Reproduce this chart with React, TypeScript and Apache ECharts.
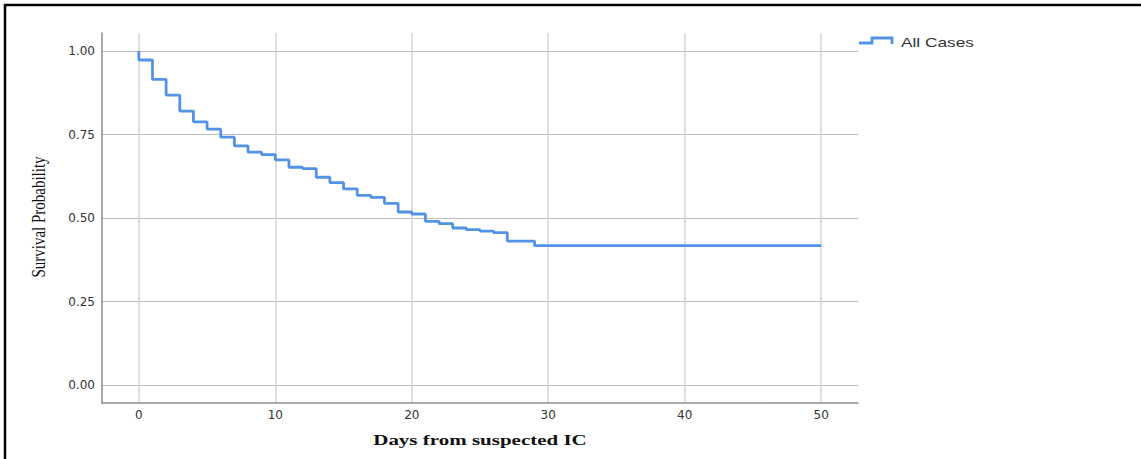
import React, { useEffect, useRef } from "react";
import * as echarts from "echarts";

const days = [0, 0, 1, 2, 3, 4, 5, 6, 7, 8, 9, 10, 11, 12, 13, 14, 15, 16, 17, 18, 19, 20, 21, 22, 23, 24, 25, 26, 27, 29, 50];
const survival = [1.0, 0.973, 0.915, 0.868, 0.82, 0.788, 0.766, 0.742, 0.716, 0.697, 0.69, 0.674, 0.652, 0.648, 0.622, 0.606, 0.587, 0.568, 0.562, 0.544, 0.518, 0.512, 0.49, 0.483, 0.47, 0.465, 0.461, 0.456, 0.431, 0.417, 0.417];
const seriesName = "All Cases";
const xTitle = "Days from suspected IC";
const yTitle = "Survival Probability";

const BLUE = "#5293e8";
const X_MIN = -2.7;
const X_MAX = 52.7;

export default function App() {
  const ref = useRef<HTMLDivElement>(null);
  useEffect(() => {
    if (!ref.current) return;
    const chart = echarts.init(ref.current, undefined, { renderer: "svg" });
    const data = days.map((d, i) => [d, survival[i]]);
    chart.setOption({
      animation: false,
      backgroundColor: "#ffffff",
      grid: [
        { left: 102, right: 283, top: 33, bottom: 56, containLabel: false },
        { left: 102, right: 283, top: 51, bottom: 74, containLabel: false },
      ],
      xAxis: [
        {
          type: "value",
          gridIndex: 0,
          min: X_MIN,
          max: X_MAX,
          splitNumber: 5,
          axisLine: { show: true, onZero: false, lineStyle: { color: "#8c8c8c", width: 1.5 } },
          axisTick: { show: false },
          axisLabel: {
            showMinLabel: false,
            showMaxLabel: false,
            margin: 6,
            color: "#333",
            fontFamily: "DejaVu Sans",
            fontSize: 12,
          },
          splitLine: { show: true, showMinLine: false, showMaxLine: false, lineStyle: { color: "#d4d4d4", width: 1.5 } },
        },
        {
          type: "value",
          gridIndex: 1,
          min: X_MIN,
          max: X_MAX,
          show: false,
          splitLine: { show: false },
        },
      ],
      yAxis: [
        {
          type: "value",
          gridIndex: 0,
          min: 0,
          max: 1,
          axisLine: { show: true, onZero: false, lineStyle: { color: "#8c8c8c", width: 1.5 } },
          axisTick: { show: false },
          axisLabel: { show: false },
          splitLine: { show: false },
        },
        {
          type: "value",
          gridIndex: 1,
          min: 0,
          max: 1,
          interval: 0.25,
          axisLine: { show: false },
          axisTick: { show: false },
          axisLabel: {
            margin: 7,
            color: "#333",
            fontFamily: "DejaVu Sans",
            fontSize: 12,
            formatter: (v: number) => v.toFixed(2),
          },
          splitLine: { show: true, showMinLine: true, showMaxLine: true, lineStyle: { color: "#bdbdbd", width: 1 } },
        },
      ],
      series: [
        {
          name: seriesName,
          type: "line",
          xAxisIndex: 1,
          yAxisIndex: 1,
          step: "end",
          showSymbol: false,
          data,
          lineStyle: { color: BLUE, width: 2.8 },
          itemStyle: { color: BLUE },
        },
      ],
      graphic: [
        {
          type: "rect",
          shape: { x: 5, y: 5, width: 1200, height: 500 },
          style: { fill: "none", stroke: "#000", lineWidth: 2.5 },
          silent: true,
        },
        {
          type: "polyline",
          shape: { points: [[859, 43], [872, 43], [872, 38], [892, 38], [892, 44]] },
          style: { fill: "none", stroke: BLUE, lineWidth: 2.8 },
        },
        {
          type: "text",
          x: 901,
          y: 42,
          scaleX: 1.33,
          style: {
            text: seriesName,
            fontFamily: "Liberation Sans",
            fontSize: 13,
            fill: "#333",
            verticalAlign: "middle",
            align: "left",
          },
        },
        {
          type: "text",
          x: 480,
          y: 440,
          scaleX: 1.4,
          style: {
            text: xTitle,
            fontFamily: "Liberation Serif",
            fontWeight: "bold",
            fontSize: 15,
            fill: "#111",
            align: "center",
            verticalAlign: "middle",
          },
        },
        {
          type: "text",
          x: 39,
          y: 217,
          rotation: Math.PI / 2,
          scaleY: 1.3,
          style: {
            text: yTitle,
            fontFamily: "Liberation Serif",
            fontSize: 15,
            fill: "#111",
            align: "center",
            verticalAlign: "middle",
          },
        },
      ],
    });
    return () => chart.dispose();
  }, []);
  return (
    <div
      ref={ref}
      style={{ position: "fixed", left: 0, top: 0, width: 1141, height: 459 }}
    />
  );
}
